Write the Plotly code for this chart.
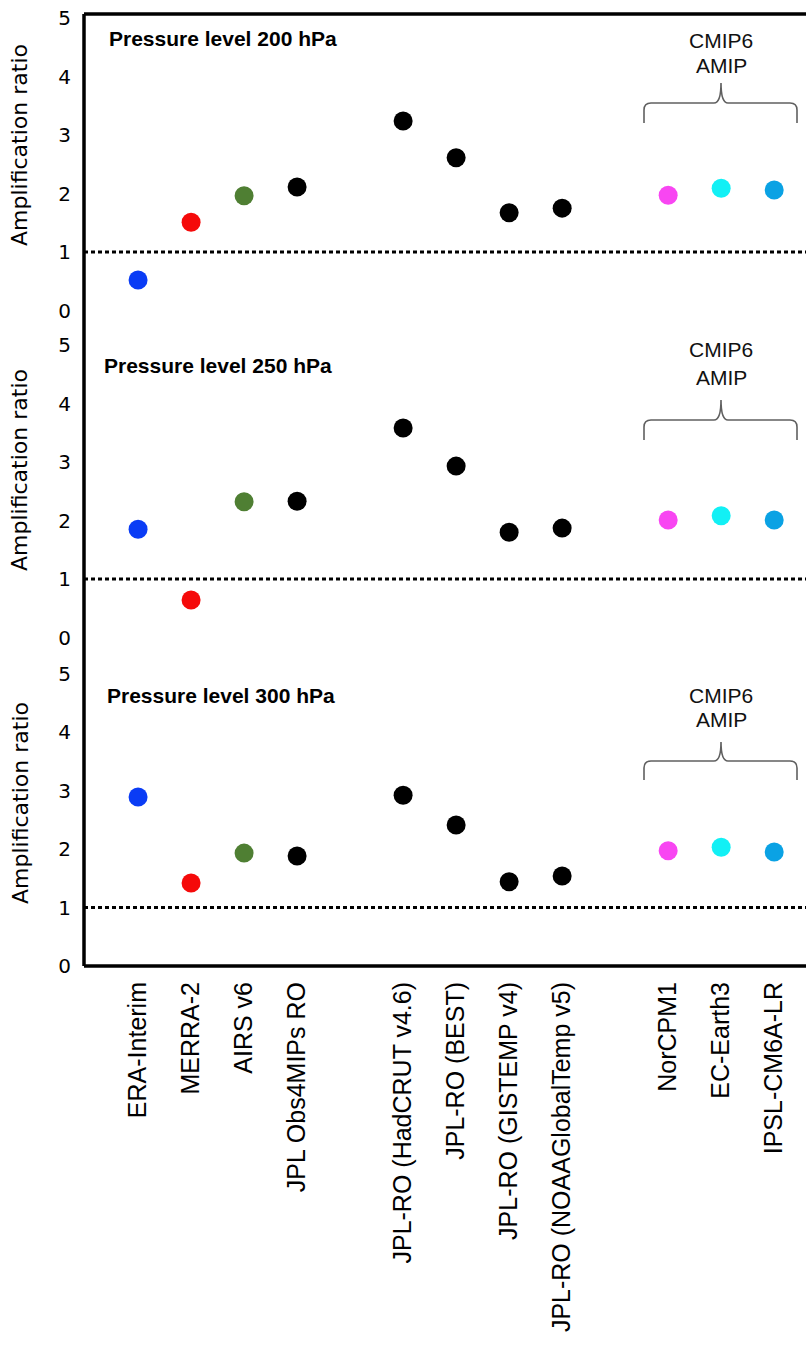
import plotly.graph_objects as go

W, H = 806, 1348
ML, MR, MT, MB = 84, 0, 14, 382

categories = ["ERA-Interim", "MERRA-2", "AIRS v6", "JPL Obs4MIPs RO",
              "JPL-RO (HadCRUT v4.6)", "JPL-RO (BEST)", "JPL-RO (GISTEMP v4)",
              "JPL-RO (NOAAGlobalTemp v5)", "NorCPM1", "EC-Earth3", "IPSL-CM6A-LR"]
groups = [0, 0, 0, 0, 1, 1, 1, 1, 2, 2, 2]
colors = ["#0a3cf5", "#f50a0a", "#4f7f33", "#000000", "#000000", "#000000",
          "#000000", "#000000", "#f846f2", "#12f0f5", "#0aa2e4"]

levels = ["200", "250", "300"]
ratio_200 = [0.52, 1.51, 1.96, 2.11, 3.24, 2.61, 1.67, 1.75, 1.97, 2.09, 2.06]
ratio_250 = [1.85, 0.64, 2.32, 2.33, 3.58, 2.93, 1.80, 1.87, 2.01, 2.08, 2.01]
ratio_300 = [2.89, 1.42, 1.93, 1.88, 2.92, 2.41, 1.44, 1.54, 1.97, 2.03, 1.95]
panels = [ratio_200, ratio_250, ratio_300]
yticks = [0, 1, 2, 3, 4, 5]
ref_value = 1

xpos = [i + 1 + g for i, g in enumerate(groups)]

PW = W - ML - MR
PH = H - MT - MB


def px(x):
    return (x - ML) / PW


def py(y):
    return (H - MB - y) / PH


# panel domains (pixel: value 0 bottom, value 5 top)
dom_px = [(310.5, 18), (637.5, 345), (966, 673.5)]
yaxes = ["y", "y2", "y3"]

fig = go.Figure()
for k, vals in enumerate(panels):
    fig.add_trace(go.Scatter(
        x=xpos, y=vals, mode="markers", yaxis=yaxes[k], xaxis="x",
        marker=dict(size=19, color=colors, line=dict(width=0)),
        showlegend=False, hoverinfo="skip"))

layout = dict(
    width=W, height=H, margin=dict(l=ML, r=MR, t=MT, b=MB),
    plot_bgcolor="white", paper_bgcolor="white",
    xaxis=dict(range=[-0.02, 13.6], anchor="y3", tickvals=xpos, ticktext=categories,
               tickangle=-90, showgrid=False, zeroline=False, showline=False, ticks="",
               tickfont=dict(family="Liberation Sans, Arial", size=25, color="black"),
               ticklabelstandoff=10),
)
for k in range(3):
    b, t = dom_px[k]
    key = "yaxis" if k == 0 else f"yaxis{k+1}"
    layout[key] = dict(domain=[py(b), py(t)], range=[0, 5], anchor="x",
                       tickvals=yticks, ticktext=[str(v) for v in yticks],
                       showgrid=False, zeroline=False, showline=False, ticks="",
                       tickfont=dict(family="DejaVu Sans", size=20, color="black"),
                       ticklabelstandoff=12)
fig.update_layout(**layout)

shapes = []
# frame (left, top, bottom)
for (x0, y0, x1, y1) in [(0, 0, 0, 1), (0, 1, 1.01, 1), (0, 0, 1.01, 0)]:
    shapes.append(dict(type="line", xref="paper", yref="paper", x0=x0, y0=y0, x1=x1, y1=y1,
                       line=dict(color="black", width=3.5)))
# reference dotted lines at ratio = 1
for k in range(3):
    shapes.append(dict(type="line", xref="paper", yref=yaxes[k], x0=0, x1=1,
                       y0=ref_value, y1=ref_value,
                       line=dict(color="black", width=3, dash="4px,3px")))

# braces over CMIP6 models (pixel y: line, ends, tip)
brace_px = [(103, 123, 83), (420, 440, 400), (761, 780, 742)]
bx0, bx1 = px(644), px(797)
bxc = px(721)
for (yl, ye, yt) in brace_px:
    r = 7 / PW
    rv = 7 / PH
    Yl, Ye, Yt = py(yl), py(ye), py(yt)
    path = (f"M {bx0},{Ye} L {bx0},{Yl - rv} Q {bx0},{Yl} {bx0 + r},{Yl} "
            f"L {bxc - r},{Yl} Q {bxc},{Yl} {bxc},{Yt} "
            f"Q {bxc},{Yl} {bxc + r},{Yl} L {bx1 - r},{Yl} Q {bx1},{Yl} {bx1},{Yl - rv} "
            f"L {bx1},{Ye}")
    shapes.append(dict(type="path", xref="paper", yref="paper", path=path,
                       line=dict(color="#606060", width=1.6)))
fig.update_layout(shapes=shapes)

ann = []
title_px = [(107, 38), (102, 365), (105, 695)]
cmip_px = [(40, 65), (350, 377), (695, 719)]
ytitle_px = [145, 470, 803]
for k in range(3):
    tx, ty = title_px[k]
    ann.append(dict(xref="paper", yref="paper", x=px(tx), y=py(ty), xanchor="left",
                    yanchor="middle", showarrow=False,
                    text=f"<b>Pressure level {levels[k]} hPa</b>",
                    font=dict(family="Liberation Sans, Arial", size=21, color="black")))
    c1, c2 = cmip_px[k]
    for txt, yy in (("CMIP6", c1), ("AMIP", c2)):
        ann.append(dict(xref="paper", yref="paper", x=px(721), y=py(yy), xanchor="center",
                        yanchor="middle", showarrow=False, text=txt,
                        font=dict(family="Liberation Sans, Arial", size=21, color="#111111")))
    ann.append(dict(xref="paper", yref="paper", x=px(20), y=py(ytitle_px[k]),
                    xanchor="center", yanchor="middle", showarrow=False, textangle=-90,
                    text="Amplification ratio",
                    font=dict(family="DejaVu Sans", size=22, color="black")))
fig.update_layout(annotations=ann)

fig.write_html("out.html")
